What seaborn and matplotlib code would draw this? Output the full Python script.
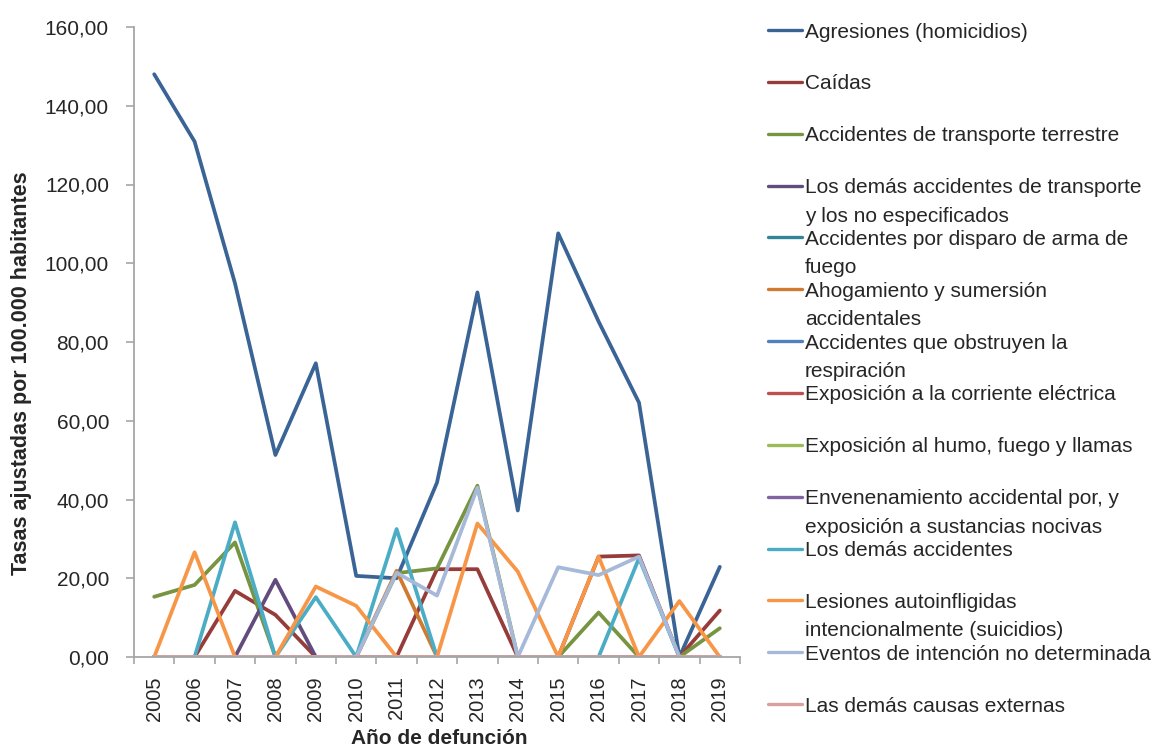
import numpy as np
import pandas as pd
import seaborn as sns
import matplotlib.pyplot as plt
from matplotlib.lines import Line2D
from matplotlib import font_manager

# years and adjusted rates per 100.000 inhabitants
years = list(range(2005, 2020))

agresiones = [148.0, 130.9, 94.9, 51.3, 74.6, 20.6, 20.0, 44.3, 92.6, 37.2, 107.6, 85.2, 64.6, 0.0, 22.9]
caidas = [0, 0, 16.8, 10.7, 0, 0, 0, 22.3, 22.3, 0, 0, 25.5, 25.8, 0, 11.8]
transporte = [15.3, 18.3, 29.1, 0, 0, 0, 21.3, 22.5, 43.5, 0, 0, 11.3, 0, 0, 7.3]
otros_transporte = [0, 0, 0, 19.6, 0, 0, 0, 0, 0, 0, 0, 0, 0, 0, 0]
disparo = [0] * 15
ahogamiento = [0, 0, 0, 0, 0, 0, 21.9, 0, 0, 0, 0, 0, 0, 0, 0]
obstruyen = [0] * 15
corriente = [0] * 15
humo = [0] * 15
envenenamiento = [0] * 15
demas_accidentes = [0, 0, 34.2, 0, 15.2, 0, 32.5, 0, 0, 0, 0, 0, 25.1, 0, 0]
lesiones = [0, 26.6, 0, 0, 17.9, 13.0, 0, 0, 33.9, 21.7, 0, 25.5, 0, 14.2, 0]
eventos = [0, 0, 0, 0, 0, 0, 21.4, 15.6, 43.0, 0, 22.8, 20.8, 25.5, 0, 0]
demas_causas = [0] * 15

causes = [
    "Agresiones (homicidios)",
    "Caídas",
    "Accidentes de transporte terrestre",
    "Los demás accidentes de transporte\ny los no especificados",
    "Accidentes por disparo de arma de\nfuego",
    "Ahogamiento y sumersión\naccidentales",
    "Accidentes que obstruyen la\nrespiración",
    "Exposición a la corriente eléctrica",
    "Exposición al humo, fuego y llamas",
    "Envenenamiento accidental por, y\nexposición a sustancias nocivas",
    "Los demás accidentes",
    "Lesiones autoinfligidas\nintencionalmente (suicidios)",
    "Eventos de intención no determinada",
    "Las demás causas externas",
]
series = [agresiones, caidas, transporte, otros_transporte, disparo, ahogamiento,
          obstruyen, corriente, humo, envenenamiento, demas_accidentes, lesiones,
          eventos, demas_causas]
colors = ["#3B6496", "#963C3A", "#779441", "#624C7E", "#33849A", "#CF7A30",
          "#4F81BD", "#C0504D", "#9BBB59", "#8064A2", "#4BACC6", "#F79646",
          "#A6B9D8", "#D9A09E"]

df = pd.DataFrame({
    "year": years * len(causes),
    "rate": [v for s in series for v in s],
    "cause": [c for c in causes for _ in years],
})

sns.set_theme(style="ticks")

# narrow font if there is one, like the original
installed = {f.name for f in font_manager.fontManager.ttflist}
if "Liberation Sans Narrow" in installed:
    plt.rcParams['font.family'] = ['Liberation Sans Narrow', 'Liberation Sans', 'DejaVu Sans']
    fs_tick, fs_year, fs_leg, fs_ylab, fs_xlab = 18, 17, 18, 18.5, 18
else:
    plt.rcParams['font.family'] = ['Liberation Sans', 'DejaVu Sans']
    fs_tick, fs_year, fs_leg, fs_ylab, fs_xlab = 15, 14.5, 15, 15.5, 15

W, H = 1156, 750
fig = plt.figure(figsize=(W / 100, H / 100), dpi=100)
ax = fig.add_axes([134 / W, 1 - 657 / H, (740 - 134) / W, (657 - 27) / H])

sns.lineplot(data=df, x="year", y="rate", hue="cause", hue_order=causes,
             palette=dict(zip(causes, colors)), linewidth=2.7, estimator=None,
             legend=False, ax=ax)

gray = "#A6A6A6"
ax.set_xlim(2004.5, 2019.5)
ax.set_ylim(0, 160)
ax.set_yticks(range(0, 161, 20))
ax.set_yticklabels([f"{v:.2f}".replace(".", ",") for v in range(0, 161, 20)], fontsize=fs_tick)
ax.set_xticks(years)
ax.set_xticklabels([str(y) for y in years], rotation=90, fontsize=fs_year)
ax.set_xticks(np.arange(2004.5, 2020, 1), minor=True)
ax.tick_params(axis="x", which="major", length=0, pad=14)
ax.tick_params(axis="x", which="minor", length=5, width=1.2, color=gray, direction="out")
ax.tick_params(axis="y", length=6, width=1.2, color=gray, pad=12)
ax.set_xlabel("")
ax.set_ylabel("")
for s in ["top", "right"]:
    ax.spines[s].set_visible(False)
for s in ["left", "bottom"]:
    ax.spines[s].set_color(gray)
    ax.spines[s].set_linewidth(1.3)

fig.text(22 / W, 1 - 373 / H, "Tasas ajustadas por 100.000 habitantes", rotation=90,
         ha="center", va="center", fontsize=fs_ylab, fontweight="bold")
fig.text(439 / W, 1 - 738 / H, "Año de defunción", ha="center", va="center",
         fontsize=fs_xlab, fontweight="bold")

# legend on the right, Excel style
for i, (name, col) in enumerate(zip(causes, colors)):
    yl = 30 + 51.85 * i
    fig.add_artist(Line2D([768 / W, 802 / W], [1 - yl / H, 1 - yl / H], color=col,
                          linewidth=2.4, transform=fig.transFigure))
    for j, line in enumerate(name.split("\n")):
        yb = yl + 7.5 + 28.5 * j
        fig.text(805 / W, 1 - yb / H, line, ha="left", va="baseline", fontsize=fs_leg)

fig.savefig("out.png", dpi=100)
